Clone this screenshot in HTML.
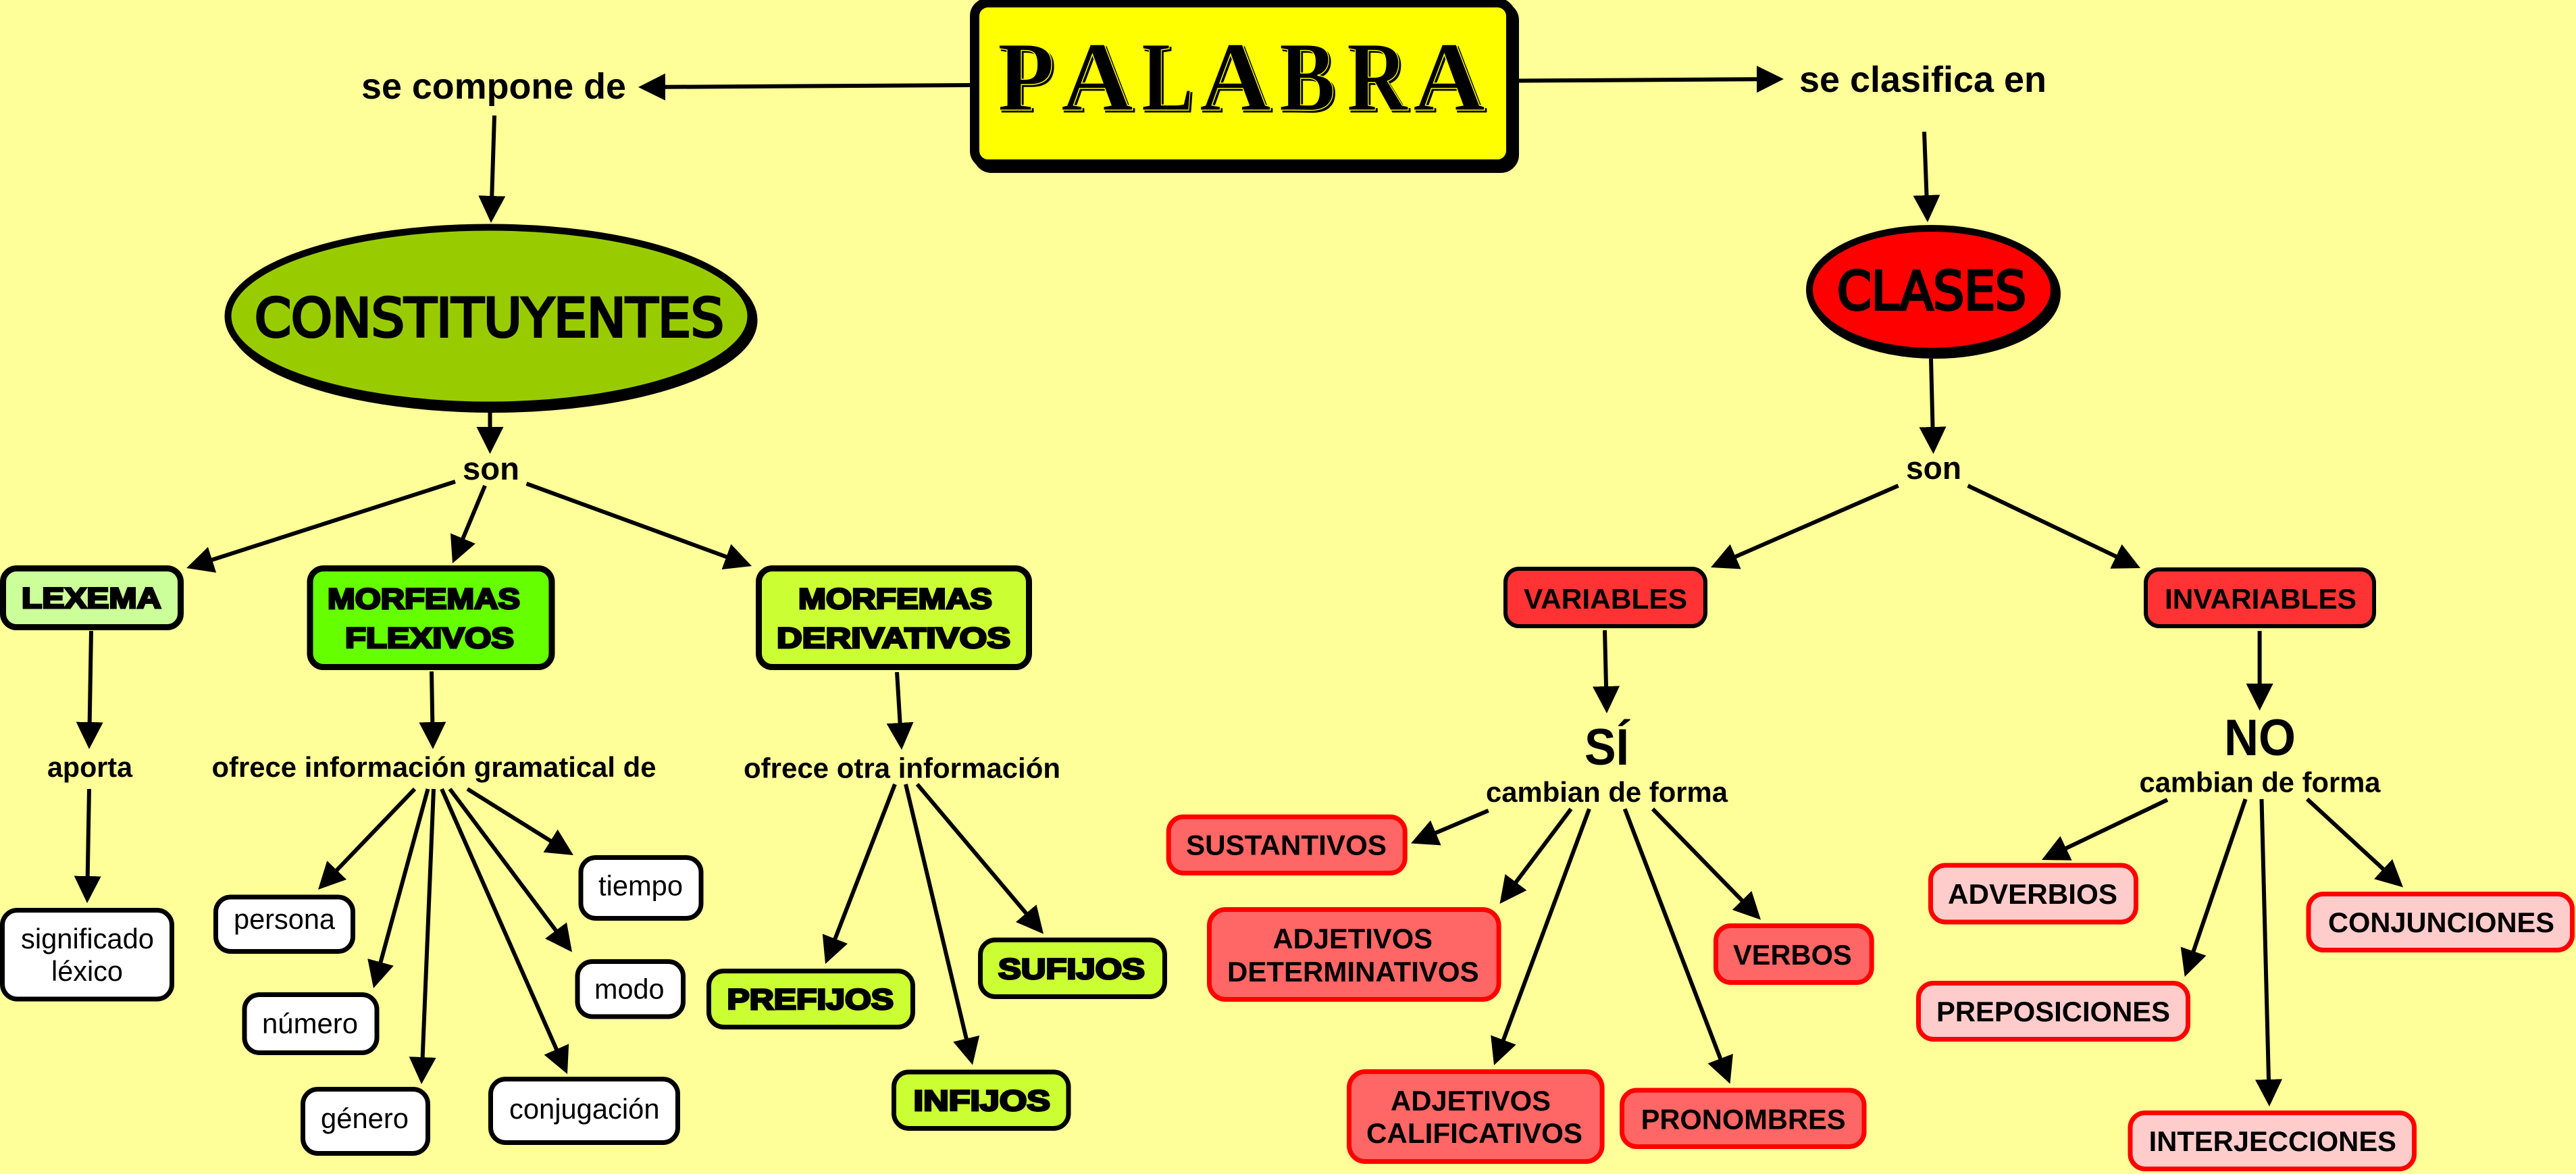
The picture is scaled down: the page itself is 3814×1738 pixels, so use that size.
<!DOCTYPE html>
<html lang="es"><head><meta charset="utf-8"><title>PALABRA</title>
<style>
html,body{margin:0;padding:0;background:#ffff99;width:3814px;height:1738px;overflow:hidden}
svg{display:block}
text{font-family:"Liberation Sans",sans-serif;fill:#000}
.b{font-weight:700}
.h{font-weight:700;stroke:#000;stroke-width:3px;font-size:43px}
.c{font-family:"DejaVu Sans",sans-serif;stroke:#000;stroke-width:4px;font-size:78px}
line{stroke:#000;stroke-width:6;marker-end:url(#a);stroke-dasharray:95 100}
.n{stroke:#000;stroke-width:7}
.r{stroke:#f00;stroke-width:7}
.m{stroke:#000;stroke-width:9}
.w{font-size:42px}
.t{font-size:42px;font-weight:700}
.ps{font-family:"Liberation Serif",serif;font-weight:700;font-size:147px;stroke:#000;stroke-width:1px}
.pf{font-family:"Liberation Serif",serif;font-weight:700;font-size:147px;stroke:#ffff00;stroke-width:1.5px}
</style></head><body>
<svg xmlns="http://www.w3.org/2000/svg" width="3814" height="1738" viewBox="0 0 3814 1738">
<defs><marker id="a" markerUnits="userSpaceOnUse" markerWidth="40" markerHeight="40" refX="40" refY="20" orient="auto"><polygon points="0,0 40,20 0,40" fill="#000"/></marker></defs>
<rect width="3814" height="1738" fill="#ffff99"/>

<!-- connectors -->
<g>
<line pathLength="100" x1="1436" y1="126" x2="945" y2="129"/>
<line pathLength="100" x1="2248" y1="119.5" x2="2641" y2="117"/>
<line pathLength="100" x1="732" y1="171" x2="727" y2="330"/>
<line pathLength="100" style="stroke-dasharray:85 100" x1="725.5" y1="608" x2="725.5" y2="672"/>
<line pathLength="100" x1="674" y1="713" x2="276" y2="841"/>
<line pathLength="100" style="stroke-dasharray:85 100" x1="718" y1="719" x2="670" y2="834"/>
<line pathLength="100" x1="779.5" y1="716" x2="1113" y2="838"/>
<line pathLength="100" x1="135" y1="934" x2="132" y2="1109"/>
<line pathLength="100" x1="132" y1="1168" x2="129" y2="1337"/>
<line pathLength="100" x1="639" y1="994" x2="641" y2="1109"/>
<line pathLength="100" x1="614" y1="1168" x2="471" y2="1317"/>
<line pathLength="100" x1="633.5" y1="1168" x2="553" y2="1463"/>
<line pathLength="100" x1="642" y1="1168" x2="624" y2="1605"/>
<line pathLength="100" x1="654" y1="1168" x2="840" y2="1590"/>
<line pathLength="100" x1="666" y1="1168" x2="847" y2="1409.5"/>
<line pathLength="100" x1="692" y1="1168" x2="849" y2="1266"/>
<line pathLength="100" x1="1328" y1="995" x2="1335" y2="1110"/>
<line pathLength="100" x1="1325" y1="1161" x2="1222" y2="1427"/>
<line pathLength="100" x1="1341" y1="1161" x2="1440" y2="1576.5"/>
<line pathLength="100" x1="1358" y1="1161" x2="1545" y2="1382.6"/>
<line pathLength="100" x1="2849" y1="195" x2="2854" y2="329"/>
<line pathLength="100" x1="2859" y1="531" x2="2862.5" y2="672"/>
<line pathLength="100" x1="2913.6" y1="719" x2="3169" y2="841"/>
<line pathLength="100" x1="2810.6" y1="719" x2="2533" y2="840"/>
<line pathLength="100" x1="3345.6" y1="934" x2="3345.6" y2="1052"/>
<line pathLength="100" x1="2376" y1="933" x2="2379" y2="1056"/>
<line pathLength="100" x1="3209" y1="1184" x2="3023" y2="1273"/>
<line pathLength="100" x1="3324.6" y1="1183" x2="3234.7" y2="1446"/>
<line pathLength="100" x1="3348.5" y1="1183" x2="3360" y2="1638"/>
<line pathLength="100" x1="3416" y1="1183" x2="3558" y2="1313.6"/>
<line pathLength="100" x1="2203.7" y1="1200" x2="2089" y2="1248.5"/>
<line pathLength="100" x1="2326" y1="1197.6" x2="2220.5" y2="1338"/>
<line pathLength="100" x1="2353" y1="1197.6" x2="2212" y2="1577"/>
<line pathLength="100" x1="2405.7" y1="1197.6" x2="2561.5" y2="1604.5"/>
<line pathLength="100" x1="2447" y1="1197.6" x2="2607" y2="1361.6"/>
</g>

<!-- PALABRA -->
<rect x="1448" y="10" width="794" height="239" rx="20" fill="#000" stroke="#000" stroke-width="14"/>
<rect x="1443" y="4" width="794" height="239" rx="20" fill="#ffff00" stroke="#000" stroke-width="14"/>
<g class="ps-wrap">
<text class="ps" x="1480" y="166" textLength="84" lengthAdjust="spacingAndGlyphs">P</text>
<text class="ps" x="1574" y="166" textLength="107" lengthAdjust="spacingAndGlyphs">A</text>
<text class="ps" x="1693" y="166" textLength="77" lengthAdjust="spacingAndGlyphs">L</text>
<text class="ps" x="1779" y="166" textLength="106" lengthAdjust="spacingAndGlyphs">A</text>
<text class="ps" x="1897" y="166" textLength="83" lengthAdjust="spacingAndGlyphs">B</text>
<text class="ps" x="1997" y="166" textLength="90" lengthAdjust="spacingAndGlyphs">R</text>
<text class="ps" x="2095" y="166" textLength="107" lengthAdjust="spacingAndGlyphs">A</text>
<text class="pf" x="1477" y="163" textLength="84" lengthAdjust="spacingAndGlyphs">P</text>
<text class="pf" x="1571" y="163" textLength="107" lengthAdjust="spacingAndGlyphs">A</text>
<text class="pf" x="1690" y="163" textLength="77" lengthAdjust="spacingAndGlyphs">L</text>
<text class="pf" x="1776" y="163" textLength="106" lengthAdjust="spacingAndGlyphs">A</text>
<text class="pf" x="1894" y="163" textLength="83" lengthAdjust="spacingAndGlyphs">B</text>
<text class="pf" x="1994" y="163" textLength="90" lengthAdjust="spacingAndGlyphs">R</text>
<text class="pf" x="2092" y="163" textLength="107" lengthAdjust="spacingAndGlyphs">A</text>
</g>

<!-- ellipses -->
<ellipse cx="729.5" cy="474" rx="387" ry="132" fill="#000" stroke="#000" stroke-width="10"/>
<ellipse cx="724.5" cy="468" rx="387" ry="131.5" fill="#99cc00" stroke="#000" stroke-width="10"/>
<text class="c" x="377" y="498" textLength="695" lengthAdjust="spacingAndGlyphs">CONSTITUYENTES</text>
<ellipse cx="2865" cy="435" rx="181" ry="91" fill="#000" stroke="#000" stroke-width="10"/>
<ellipse cx="2860" cy="429" rx="181" ry="91" fill="#ff0000" stroke="#000" stroke-width="10"/>
<text class="c" x="2720" y="458" textLength="280" lengthAdjust="spacingAndGlyphs">CLASES</text>

<!-- link phrases -->
<text class="b" x="535" y="146" font-size="54" textLength="392" lengthAdjust="spacingAndGlyphs">se compone de</text>
<text class="b" x="2664" y="136" font-size="54" textLength="366" lengthAdjust="spacingAndGlyphs">se clasifica en</text>
<text class="b" x="685" y="710" font-size="47" textLength="84" lengthAdjust="spacingAndGlyphs">son</text>
<text class="b" x="2822" y="709" font-size="47" textLength="82" lengthAdjust="spacingAndGlyphs">son</text>
<text class="t" x="70" y="1150" textLength="126" lengthAdjust="spacingAndGlyphs">aporta</text>
<text class="t" x="313.5" y="1150" textLength="658" lengthAdjust="spacingAndGlyphs">ofrece información gramatical de</text>
<text class="t" x="1101" y="1151.5" textLength="469" lengthAdjust="spacingAndGlyphs">ofrece otra información</text>
<text class="b" x="2346" y="1132" font-size="76" textLength="66" lengthAdjust="spacingAndGlyphs">SÍ</text>
<text class="b" x="3293" y="1118" font-size="76" textLength="106" lengthAdjust="spacingAndGlyphs">NO</text>
<text class="t" x="2200" y="1187" textLength="358" lengthAdjust="spacingAndGlyphs">cambian de forma</text>
<text class="t" x="3167.5" y="1172.6" textLength="357" lengthAdjust="spacingAndGlyphs">cambian de forma</text>

<!-- green level 1 -->
<rect class="m" x="4.5" y="841.5" width="263" height="87" rx="20" fill="#ccff99"/>
<text class="h" x="32" y="900" textLength="206.5" lengthAdjust="spacingAndGlyphs">LEXEMA</text>
<rect class="m" x="459" y="841.5" width="358" height="146" rx="20" fill="#66ff00"/>
<text class="h" x="485" y="901" textLength="285" lengthAdjust="spacingAndGlyphs">MORFEMAS</text>
<text class="h" x="511" y="959" textLength="250" lengthAdjust="spacingAndGlyphs">FLEXIVOS</text>
<rect class="m" x="1123.5" y="841.5" width="400" height="146" rx="20" fill="#ccff33"/>
<text class="h" x="1182" y="901" textLength="287" lengthAdjust="spacingAndGlyphs">MORFEMAS</text>
<text class="h" x="1150" y="959" textLength="346" lengthAdjust="spacingAndGlyphs">DERIVATIVOS</text>

<!-- white nodes -->
<g fill="#fff">
<rect class="n" x="3.5" y="1347.5" width="251" height="131.5" rx="22"/>
<rect class="n" x="319.5" y="1328" width="203" height="80.5" rx="22"/>
<rect class="n" x="362" y="1472.5" width="196" height="86" rx="22"/>
<rect class="n" x="448.5" y="1612.5" width="185" height="95" rx="22"/>
<rect class="n" x="726.5" y="1597.5" width="277" height="94" rx="22"/>
<rect class="n" x="855" y="1423.5" width="156.5" height="81.5" rx="22"/>
<rect class="n" x="860" y="1269.5" width="178" height="90" rx="22"/>
</g>
<text class="w" x="31" y="1404" textLength="197" lengthAdjust="spacingAndGlyphs">significado</text>
<text class="w" x="76" y="1452" textLength="106" lengthAdjust="spacingAndGlyphs">léxico</text>
<text class="w" x="346" y="1375" textLength="150" lengthAdjust="spacingAndGlyphs">persona</text>
<text class="w" x="388" y="1529.5" textLength="142" lengthAdjust="spacingAndGlyphs">número</text>
<text class="w" x="475" y="1670" textLength="130" lengthAdjust="spacingAndGlyphs">género</text>
<text class="w" x="754" y="1656" textLength="222.5" lengthAdjust="spacingAndGlyphs">conjugación</text>
<text class="w" x="880" y="1478.5" textLength="103.5" lengthAdjust="spacingAndGlyphs">modo</text>
<text class="w" x="886" y="1325.6" textLength="125" lengthAdjust="spacingAndGlyphs">tiempo</text>

<!-- lime nodes -->
<g fill="#ccff33">
<rect class="n" x="1049.5" y="1437.5" width="302" height="83" rx="22"/>
<rect class="n" x="1451.5" y="1391.5" width="273" height="84" rx="22"/>
<rect class="n" x="1323.5" y="1587" width="258.5" height="83.5" rx="22"/>
</g>
<text class="h" x="1076.5" y="1494" textLength="246.5" lengthAdjust="spacingAndGlyphs">PREFIJOS</text>
<text class="h" x="1478" y="1449" textLength="217" lengthAdjust="spacingAndGlyphs">SUFIJOS</text>
<text class="h" x="1352.7" y="1644" textLength="202.3" lengthAdjust="spacingAndGlyphs">INFIJOS</text>

<!-- red level 1 -->
<g fill="#ff3333" stroke="#000" stroke-width="6">
<rect x="2229" y="842" width="296" height="85" rx="20"/>
<rect x="3177" y="843" width="338" height="84" rx="20"/>
</g>
<text class="t" x="2256" y="901" textLength="242" lengthAdjust="spacingAndGlyphs">VARIABLES</text>
<text class="t" x="3205" y="901" textLength="284" lengthAdjust="spacingAndGlyphs">INVARIABLES</text>

<!-- salmon nodes -->
<g fill="#ff6666">
<rect class="r" x="1730.2" y="1209.3" width="350" height="83.2" rx="22"/>
<rect class="r" x="1790.5" y="1346.5" width="428.6" height="133" rx="24"/>
<rect class="r" x="2540.5" y="1370.5" width="230.7" height="84" rx="22"/>
<rect class="r" x="1997.5" y="1586.5" width="374.6" height="133" rx="24"/>
<rect class="r" x="2401.5" y="1614" width="358.5" height="83.5" rx="22"/>
</g>
<text class="t" x="1756" y="1265.6" textLength="297" lengthAdjust="spacingAndGlyphs">SUSTANTIVOS</text>
<text class="t" x="1884.5" y="1404" textLength="236.5" lengthAdjust="spacingAndGlyphs">ADJETIVOS</text>
<text class="t" x="1817" y="1453" textLength="372.6" lengthAdjust="spacingAndGlyphs">DETERMINATIVOS</text>
<text class="t" x="2566" y="1428" textLength="175.7" lengthAdjust="spacingAndGlyphs">VERBOS</text>
<text class="t" x="2059" y="1644" textLength="237" lengthAdjust="spacingAndGlyphs">ADJETIVOS</text>
<text class="t" x="2023" y="1692" textLength="320" lengthAdjust="spacingAndGlyphs">CALIFICATIVOS</text>
<text class="t" x="2429.6" y="1671.7" textLength="303" lengthAdjust="spacingAndGlyphs">PRONOMBRES</text>

<!-- pink nodes -->
<g fill="#ffcccc">
<rect class="r" x="2858.5" y="1281" width="304" height="84" rx="22"/>
<rect class="r" x="2840.5" y="1455.5" width="399" height="83" rx="22"/>
<rect class="r" x="3418" y="1323.5" width="390.5" height="83" rx="22"/>
<rect class="r" x="3154" y="1647.5" width="420.5" height="83" rx="22"/>
</g>
<text class="t" x="2884" y="1338" textLength="251" lengthAdjust="spacingAndGlyphs">ADVERBIOS</text>
<text class="t" x="2867" y="1512" textLength="346" lengthAdjust="spacingAndGlyphs">PREPOSICIONES</text>
<text class="t" x="3447" y="1380" textLength="335" lengthAdjust="spacingAndGlyphs">CONJUNCIONES</text>
<text class="t" x="3181.6" y="1704" textLength="366.4" lengthAdjust="spacingAndGlyphs">INTERJECCIONES</text>
</svg>
</body></html>
